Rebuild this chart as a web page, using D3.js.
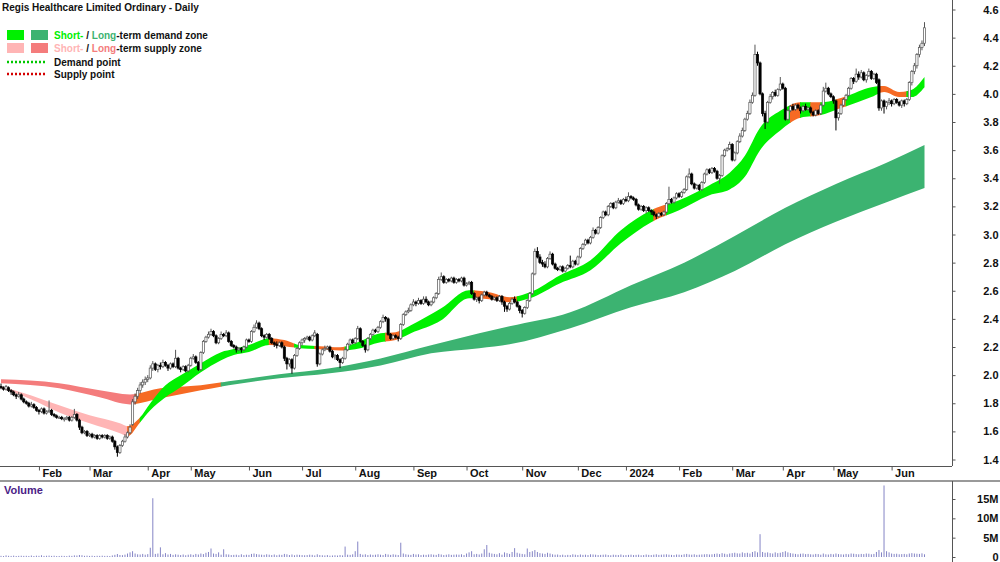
<!DOCTYPE html>
<html>
<head>
<meta charset="utf-8">
<script src="https://cdn.jsdelivr.net/npm/d3@7"></script>
<style>
body{margin:0;background:#fff;}
svg{display:block;font-family:"Liberation Sans",Arial,sans-serif;}
</style>
</head>
<body>
<svg id="chart" width="1000" height="562"></svg>
<script>
// ASX holidays inside the range (no trading those days)
var holidays = ["2023-01-26","2023-04-07","2023-04-10","2023-04-25","2023-06-12","2023-12-25","2023-12-26",
  "2024-01-01","2024-01-26","2024-03-29","2024-04-01","2024-04-25","2024-06-10"];
var firstDay = "2023-01-10";

// daily prices in cents
var opens = [192,191,190,191,189,188,186,185,186,183,181,180,178,179,177,175,174,176,173,174,
175,172,171,170,170,169,169,170,168,170,172,168,163,159,160,157,158,156,157,155,
157,156,157,155,156,153,149,145,150,153,156,159,165,181,185,189,193,195,197,198,
205,208,204,207,206,209,207,205,208,206,212,205,204,206,203,207,212,213,209,204,
216,224,227,229,231,228,223,226,229,228,230,224,221,220,218,219,218,220,225,224,
231,234,237,233,228,227,229,226,223,222,221,223,220,212,208,211,205,214,219,223,
225,226,227,225,228,229,208,215,218,219,220,217,213,214,211,209,212,218,222,225,
223,226,233,224,221,218,226,229,232,231,234,238,241,240,229,226,228,227,226,236,
243,245,246,250,252,251,253,251,254,252,250,252,255,258,268,270,266,268,267,269,
266,268,267,269,264,265,266,258,254,255,253,257,259,257,256,254,255,253,256,252,
249,247,251,254,252,249,246,244,248,253,258,272,288,284,280,279,277,283,286,279,
276,275,277,274,276,278,277,281,279,284,290,293,296,294,298,303,301,305,312,316,
314,320,322,319,323,324,322,325,324,327,326,325,321,318,320,317,319,317,316,314,
313,315,314,316,322,325,323,326,329,327,330,332,341,343,336,333,335,332,337,343,
346,344,347,345,340,342,356,360,361,364,353,358,366,370,374,382,386,394,399,428,
422,400,386,380,394,398,401,399,403,407,404,382,388,391,389,392,390,388,391,389,
390,387,385,388,386,392,402,404,400,398,395,383,386,392,396,399,404,411,409,414,
412,415,410,413,416,411,414,410,390,395,391,394,395,393,396,394,392,395,393,396,
408,416,420,428,433,436];
var highs = [194,192,193,192,190,189,187,188,187,184,182,181,181,180,178,176,177,177,175,182,
176,173,172,171,171,170,171,171,171,176,173,169,164,161,161,159,159,158,158,158,
158,158,158,157,157,154,150,151,154,158,160,165,183,187,191,195,197,199,200,207,
210,209,208,209,211,210,208,209,209,218,213,206,207,207,208,213,215,214,210,217,
225,228,231,233,232,229,227,231,230,232,231,225,222,221,220,220,221,226,226,232,
236,239,238,234,229,230,230,227,224,224,224,224,221,213,212,212,215,220,224,226,
227,228,228,229,232,230,216,219,221,221,221,218,215,215,212,213,219,223,226,226,
227,235,234,225,222,227,230,233,233,235,239,243,242,241,230,229,229,228,237,244,
246,248,251,254,253,255,254,256,256,253,253,256,259,270,273,271,269,269,270,270,
269,269,270,270,266,267,267,259,256,256,258,260,260,258,257,256,256,257,257,253,
250,252,255,256,253,250,247,249,254,259,273,290,291,286,282,281,284,288,287,280,
277,278,278,277,279,285,282,282,285,291,294,297,297,299,305,304,306,313,317,317,
321,323,323,324,326,325,326,327,330,328,327,326,322,321,321,320,320,318,317,315,
316,316,317,323,334,326,327,330,330,331,333,342,347,344,337,336,336,338,344,347,
347,348,348,346,343,357,361,362,366,365,359,367,372,376,383,388,396,401,435,430,
423,401,388,395,400,402,403,404,412,408,405,389,392,393,393,393,391,392,393,391,
391,388,389,389,393,405,408,405,401,399,396,387,393,397,400,405,412,412,418,416,
417,416,414,418,417,415,415,411,396,396,395,397,396,397,397,395,396,396,397,409,
417,422,429,435,438,451];
var lows = [190,189,189,188,186,185,183,184,182,180,179,177,177,176,174,172,173,172,172,173,
171,170,169,169,168,167,168,167,167,169,167,161,158,158,156,156,155,155,154,154,
155,155,154,154,152,147,142,144,149,152,155,158,164,179,183,187,191,193,195,197,
203,203,202,204,205,206,203,204,205,205,204,202,203,202,202,206,211,208,203,203,
215,223,226,228,227,222,222,225,227,227,223,220,219,216,217,216,217,219,223,223,
230,233,232,227,225,226,225,222,220,219,220,219,210,204,206,201,204,213,218,221,
223,225,224,224,227,206,207,214,217,218,216,212,211,210,205,208,211,217,221,222,
222,225,223,220,216,217,225,228,230,230,233,237,238,228,225,225,226,224,225,235,
242,244,245,249,249,250,250,250,251,249,249,251,254,257,267,265,265,266,266,265,
265,266,266,263,263,264,257,253,252,251,252,256,256,255,253,253,252,252,250,245,
245,246,250,251,248,244,241,243,247,252,257,271,283,279,277,276,276,282,278,275,
274,274,273,273,275,276,276,278,278,283,289,292,293,293,297,300,300,304,311,313,
313,319,318,318,322,321,321,323,323,325,324,320,317,317,316,315,316,314,313,311,
312,313,313,315,321,322,322,325,326,326,329,331,340,335,332,332,331,331,336,342,
343,343,344,339,336,341,355,359,360,352,352,357,365,369,373,381,385,393,398,420,
399,384,375,379,393,396,398,398,402,403,381,381,387,388,388,389,386,387,388,388,
386,384,384,385,385,391,401,399,397,393,374,381,385,391,395,398,403,407,408,410,
411,409,408,412,410,410,407,388,388,386,389,392,391,392,393,391,390,391,392,395,
406,414,418,426,431,434];
var closes = [191,190,192,189,188,186,185,186,183,181,180,178,179,177,175,174,176,173,174,175,
172,171,170,170,169,169,170,168,170,172,168,163,159,160,157,158,156,157,155,157,
156,157,155,156,153,149,145,150,153,156,159,163,181,185,189,193,195,197,198,205,
208,204,207,206,209,207,205,208,206,212,205,204,206,203,207,212,213,209,204,216,
224,227,229,231,228,223,226,229,228,230,224,221,220,218,219,218,220,225,224,231,
234,237,233,228,227,229,226,223,222,221,223,220,212,208,211,205,214,219,223,225,
226,227,225,228,230,208,215,218,219,220,217,213,214,211,209,212,218,222,225,223,
226,233,224,221,218,226,229,232,231,234,238,241,240,229,226,228,227,226,236,243,
245,246,250,252,251,253,251,254,252,250,252,255,258,268,270,266,268,267,269,266,
268,267,269,264,265,266,258,254,255,253,257,259,257,256,254,255,253,256,252,249,
247,251,254,252,249,246,244,248,253,258,272,288,284,280,279,277,283,286,279,276,
275,277,274,276,278,277,281,279,284,290,293,296,294,298,303,301,305,312,316,314,
320,322,319,323,324,322,325,324,327,326,325,321,318,320,317,319,317,316,314,313,
315,314,316,322,325,323,326,329,327,330,332,341,343,336,333,335,332,337,343,346,
344,347,345,340,342,356,360,361,364,353,358,366,370,374,382,386,394,399,428,422,
400,386,380,394,398,401,399,403,407,404,382,388,391,389,392,390,388,391,389,390,
387,385,388,386,392,402,404,400,398,395,383,386,392,396,399,404,411,409,414,412,
415,410,413,416,411,414,408,390,395,391,394,395,393,396,394,392,395,393,396,408,
416,420,428,433,436,447];
// volume in thousands of shares
var volumes = [300,250,420,310,280,350,260,300,330,290,310,270,380,260,340,300,450,280,320,360,
290,330,250,270,310,280,240,350,300,420,380,520,460,300,350,280,330,260,310,290,
340,280,300,260,410,560,780,520,480,610,900,1200,1500,900,700,650,800,600,750,2400,
15200,800,900,2500,700,1000,650,800,550,700,600,500,650,450,600,700,550,800,650,900,
750,1100,1300,2200,900,800,1200,600,2000,700,650,500,550,600,450,700,500,600,550,800,
900,750,650,600,550,700,600,500,650,450,600,550,800,700,500,650,450,600,550,500,
450,500,600,550,400,700,500,450,400,500,350,400,450,380,500,420,2700,600,550,700,
1500,4000,800,600,700,500,650,550,600,700,600,500,800,650,550,700,600,500,3700,900,
700,600,550,800,650,700,500,600,550,650,700,600,550,800,650,500,600,700,550,600,
650,600,700,500,900,1200,1500,700,800,650,900,2000,3100,1100,900,800,700,1000,600,1200,
1000,800,1300,2300,1100,900,800,700,2200,1300,1500,1800,1300,1000,900,800,1100,900,700,600,
650,500,600,450,550,500,700,600,500,650,550,600,500,700,650,600,500,550,600,650,
500,450,600,550,500,650,450,500,550,600,500,550,600,450,500,650,550,500,600,700,
550,600,650,700,600,550,500,650,600,550,700,800,650,600,700,550,600,650,700,750,
650,700,800,900,750,1000,850,700,900,1000,1100,950,900,1200,1000,1100,900,1300,1500,1200,
5900,1300,1100,1200,1000,900,1200,1000,1100,1300,1500,1200,1000,900,800,700,850,900,750,800,
700,650,800,750,600,900,700,650,800,700,900,750,700,650,800,700,900,850,750,700,
800,750,900,850,700,800,1300,1800,1200,18500,1500,1200,900,800,850,700,750,800,700,900,
1000,900,850,800,950,700];

// short-term zone edges (day index, upper, lower in $)
var shortIdx = [0,12,23,35,47,50,55,59,65,71,79,87,92,98,106,112,118,126,134,140,150,156,162,174,185,193,201,209,221,233,245,257,268,280,288,294,300,308,316,324,332,344,349,355,360,365];
var shortTop = [1.920,1.856,1.785,1.714,1.657,1.636,1.700,1.800,1.928,1.999,2.085,2.163,2.185,2.214,2.263,2.249,2.214,2.206,2.198,2.227,2.298,2.305,2.355,2.475,2.604,2.589,2.554,2.589,2.711,2.817,3.031,3.173,3.244,3.351,3.440,3.560,3.760,3.880,3.940,3.940,3.970,4.048,4.056,4.013,4.030,4.120];
var shortBot = [1.906,1.827,1.735,1.657,1.586,1.565,1.665,1.750,1.842,1.913,2.020,2.106,2.143,2.164,2.214,2.206,2.192,2.184,2.176,2.184,2.234,2.249,2.298,2.390,2.547,2.540,2.518,2.547,2.654,2.746,2.938,3.088,3.173,3.280,3.320,3.410,3.600,3.740,3.830,3.849,3.899,3.977,4.013,3.977,3.977,4.048];
// long-term zone edges
var longIdx = [0,23,39,51,63,79,90,110,130,150,170,189,201,225,249,270,290,310,330,350,365];
var longTop = [1.970,1.942,1.892,1.863,1.906,1.928,1.956,2.006,2.049,2.119,2.212,2.297,2.347,2.447,2.640,2.800,2.990,3.190,3.360,3.510,3.636];
var longBot = [1.942,1.906,1.842,1.792,1.835,1.892,1.928,1.977,2.013,2.069,2.155,2.191,2.219,2.333,2.482,2.590,2.740,2.930,3.090,3.230,3.330];

// zone state by day range: d = demand, s = supply, m = changing
var shortZones = [[0,50,"s"],[50,55,"m"],[55,106,"d"],[106,116,"m"],[116,124,"d"],[124,136,"m"],[136,152,"d"],[152,158,"m"],
  [158,187,"d"],[187,204,"m"],[204,258,"d"],[258,263,"m"],[263,312,"d"],[312,316,"m"],[316,320,"d"],[320,324,"m"],
  [324,330,"d"],[330,334,"m"],[334,347,"d"],[347,358,"m"],[358,365,"d"]];
var longZones = [[0,53,"s"],[53,87,"m"],[87,365,"d"]];

var priceTicks = [1.4,1.6,1.8,2.0,2.2,2.4,2.6,2.8,3.0,3.2,3.4,3.6,3.8,4.0,4.2,4.4,4.6];
var volTicks = [0,5000,10000,15000];
var volLabels = ["0","5M","10M","15M"];

var shortColors = {d:"#00f000", s:"#ffb5b5", m:"#f66a24"};
var longColors = {d:"#3cb371", s:"#f47c7c", m:"#f66a24"};

// build trading days
var holi = new Set(holidays);
var fmt = d3.timeFormat("%Y-%m-%d");
var days = [];
var dt = d3.timeParse("%Y-%m-%d")(firstDay);
while (days.length < closes.length) {
  var wd = dt.getDay();
  if (wd != 0 && wd != 6 && !holi.has(fmt(dt))) days.push(new Date(dt));
  dt = d3.timeDay.offset(dt, 1);
}

var svg = d3.select('#chart');
var axisX = 952, priceBottom = 466, volTop = 481;

var x = d3.scaleLinear().domain([0, closes.length - 1]).range([1, 924.5]);
var y = d3.scaleLinear().domain([1.4, 4.6]).range([459.5, 9.5]);
var yv = d3.scaleLinear().domain([0, 15000]).range([557, 499]);

var defs = svg.append("defs");
defs.append("clipPath").attr("id", "priceClip")
  .append("rect").attr("x", 0).attr("y", 0).attr("width", axisX).attr("height", priceBottom);

var priceG = svg.append("g").attr("clip-path", "url(#priceClip)");

// zones
function drawZone(idx, top, bot, zones, colors, name) {
  var pts = idx.map(function(d, k) { return {i: d, t: top[k], b: bot[k]}; });
  var area = d3.area().curve(d3.curveMonotoneX)
    .x(function(d) { return x(d.i); })
    .y0(function(d) { return y(d.b); })
    .y1(function(d) { return y(d.t); });
  zones.forEach(function(z, k) {
    var id = name + k;
    var x0 = k == 0 ? 0 : x(z[0]) - 0.4;
    var x1 = k == zones.length - 1 ? axisX : x(z[1]) + 0.4;
    defs.append("clipPath").attr("id", id)
      .append("rect").attr("x", x0).attr("y", 0).attr("width", x1 - x0).attr("height", priceBottom);
    priceG.append("path")
      .datum(pts)
      .attr("d", area)
      .attr("fill", colors[z[2]])
      .attr("clip-path", "url(#" + id + ")");
  });
}
drawZone(longIdx, longTop, longBot, longZones, longColors, "lz");
drawZone(shortIdx, shortTop, shortBot, shortZones, shortColors, "sz");

// candles
var candles = priceG.append("g").selectAll("g")
  .data(closes.map(function(c, i) { return {i: i, o: opens[i] / 100, h: highs[i] / 100, l: lows[i] / 100, c: c / 100}; }))
  .join("g");
candles.append("line")
  .attr("x1", function(d) { return x(d.i); })
  .attr("x2", function(d) { return x(d.i); })
  .attr("y1", function(d) { return y(d.h); })
  .attr("y2", function(d) { return y(d.l); })
  .attr("stroke", function(d) { return d.c >= d.o ? "#555" : "#000"; })
  .attr("stroke-width", 1);
candles.append("rect")
  .attr("x", function(d) { return x(d.i) - 1.1; })
  .attr("width", 2.2)
  .attr("y", function(d) { return y(Math.max(d.o, d.c)); })
  .attr("height", function(d) { return Math.max(1, Math.abs(y(d.o) - y(d.c))); })
  .attr("fill", function(d) { return d.c >= d.o ? "#fff" : "#000"; })
  .attr("stroke", function(d) { return d.c >= d.o ? "#555" : "#000"; })
  .attr("stroke-width", 0.7);

// volume bars
svg.append("g").selectAll("rect")
  .data(volumes)
  .join("rect")
  .attr("x", function(d, i) { return x(i) - 0.5; })
  .attr("width", 1)
  .attr("y", function(d) { return yv(d); })
  .attr("height", function(d) { return yv(0) - yv(d); })
  .attr("fill", "#8585c6");

// frame lines
svg.append("line").attr("x1", 0).attr("x2", axisX).attr("y1", priceBottom + 0.5).attr("y2", priceBottom + 0.5)
  .attr("stroke", "#555");
svg.append("line").attr("x1", 0).attr("x2", 1000).attr("y1", volTop).attr("y2", volTop)
  .attr("stroke", "#999").attr("stroke-width", 2);
svg.append("line").attr("x1", axisX + 0.5).attr("x2", axisX + 0.5).attr("y1", 0).attr("y2", priceBottom)
  .attr("stroke", "#555");
svg.append("line").attr("x1", axisX + 0.5).attr("x2", axisX + 0.5).attr("y1", volTop).attr("y2", 562)
  .attr("stroke", "#555");

// month axis
var monthIdx = [];
days.forEach(function(d, i) { if (i > 0 && d.getMonth() != days[i - 1].getMonth()) monthIdx.push(i); });
var xAxis = d3.axisBottom(x).tickValues(monthIdx).tickSize(4).tickSizeOuter(0)
  .tickFormat(function(i) { return days[i].getMonth() == 0 ? d3.timeFormat("%Y")(days[i]) : d3.timeFormat("%b")(days[i]); });
var gx = svg.append("g").attr("transform", "translate(0," + (priceBottom + 0.5) + ")").call(xAxis);
gx.select(".domain").remove();
gx.selectAll(".tick line").attr("stroke", "#555");
gx.selectAll(".tick text").attr("text-anchor", "start").attr("x", 3).attr("y", 3)
  .style("font-size", "11px").style("font-weight", "bold").attr("fill", "#111")
  .style("font-family", "'Liberation Sans', Arial, sans-serif");

// price axis
var yAxis = d3.axisRight(y).tickValues(priceTicks).tickSize(3).tickSizeOuter(0).tickFormat(d3.format(".1f"));
var gy = svg.append("g").attr("transform", "translate(" + (axisX + 0.5) + ",0)").call(yAxis);
gy.select(".domain").remove();
gy.selectAll(".tick line").attr("stroke", "#555");
gy.selectAll(".tick text").attr("text-anchor", "end").attr("x", 46)
  .style("font-size", "11px").style("font-weight", "bold").attr("fill", "#111")
  .style("font-family", "'Liberation Sans', Arial, sans-serif");

// volume axis
var vAxis = d3.axisRight(yv).tickValues(volTicks).tickSize(3).tickSizeOuter(0)
  .tickFormat(function(d, k) { return volLabels[k]; });
var gv = svg.append("g").attr("transform", "translate(" + (axisX + 0.5) + ",0)").call(vAxis);
gv.select(".domain").remove();
gv.selectAll(".tick line").attr("stroke", "#555");
gv.selectAll(".tick text").attr("text-anchor", "end").attr("x", 46)
  .style("font-size", "11px").style("font-weight", "bold").attr("fill", "#111")
  .style("font-family", "'Liberation Sans', Arial, sans-serif");

svg.append("text").attr("x", 4).attr("y", 494).text("Volume")
  .style("font-size", "11px").style("font-weight", "bold").attr("fill", "#4b1c86");

// title and legend
svg.append("text").attr("x", 2).attr("y", 11).text("Regis Healthcare Limited Ordinary - Daily")
  .style("font-size", "10px").style("font-weight", "bold").attr("fill", "#111");

var legend = svg.append("g").style("font-size", "10px").style("font-weight", "bold");
var rows = [
  {y: 35, c1: shortColors.d, c2: longColors.d, t1: "Short-", t2: "Long", rest: "-term demand zone"},
  {y: 48, c1: shortColors.s, c2: longColors.s, t1: "Short-", t2: "Long", rest: "-term supply zone"}
];
rows.forEach(function(r) {
  legend.append("rect").attr("x", 7).attr("y", r.y - 5).attr("width", 17).attr("height", 10).attr("fill", r.c1);
  legend.append("rect").attr("x", 31).attr("y", r.y - 5).attr("width", 17).attr("height", 10).attr("fill", r.c2);
  var t = legend.append("text").attr("x", 54).attr("y", r.y + 4);
  t.append("tspan").text(r.t1).attr("fill", r.c1);
  t.append("tspan").text(" / ").attr("fill", "#111");
  t.append("tspan").text(r.t2).attr("fill", r.c2);
  t.append("tspan").text(r.rest).attr("fill", "#111");
});
[{y: 62, c: "#00c800", t: "Demand point"}, {y: 74, c: "#d40000", t: "Supply point"}].forEach(function(r) {
  legend.append("line").attr("x1", 7).attr("x2", 47).attr("y1", r.y).attr("y2", r.y)
    .attr("stroke", r.c).attr("stroke-width", 2.5).attr("stroke-dasharray", "2,2");
  legend.append("text").attr("x", 54).attr("y", r.y + 4).text(r.t).attr("fill", "#111");
});
</script>
</body>
</html>
